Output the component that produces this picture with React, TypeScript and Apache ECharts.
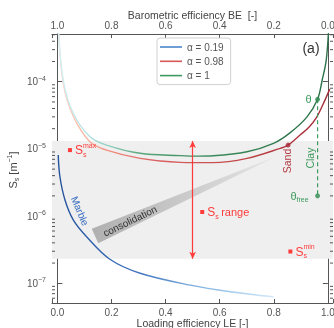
import React, { useEffect, useRef } from 'react';
import * as echarts from 'echarts';

// ---------- axis ranges ----------
const LE_MIN = -0.02;
const LE_MAX = 1.019;
const S_MIN = 5.09e-8;
const S_MAX = 5.13e-4;

// ---------- curves (LE, S_s) ----------
const blueLE = [0.003, 0.0093, 0.028, 0.0585, 0.108, 0.194, 0.306, 0.491, 0.639, 0.799];
const blueS = [8.1e-6, 3.85e-6, 1.74e-6, 8.8e-7, 4.93e-7, 2.28e-7, 1.41e-7, 9.4e-8, 7.5e-8, 6.3e-8];

const redLE = [0.004, 0.022, 0.0585, 0.12, 0.182, 0.306, 0.454, 0.576, 0.701, 0.824, 0.853, 0.898, 0.93, 0.957, 0.981, 1.007];
const redS = [6.3e-4, 9.25e-5, 3.09e-5, 1.28e-5, 9.6e-6, 7.24e-6, 6.31e-6, 6.24e-6, 7.24e-6, 1.02e-5, 1.14e-5, 1.62e-5, 2.1e-5, 2.9e-5, 4.5e-5, 7.76e-5];

const greenLE = [0.003, 0.0215, 0.0585, 0.12, 0.182, 0.306, 0.454, 0.52, 0.576, 0.701, 0.799, 0.861, 0.923, 0.962, 0.979, 0.994, 1.003];
const greenS = [6.3e-4, 1.06e-4, 3.39e-5, 1.52e-5, 1.14e-5, 8.6e-6, 7.94e-6, 7.8e-6, 7.9e-6, 9.08e-6, 1.21e-5, 1.75e-5, 3.0e-5, 5.47e-5, 1.06e-4, 2.1e-4, 6.3e-4];

// ---------- reference levels & points ----------
const SS_MAX = 1.31e-5;
const SS_MIN = 2.32e-7;
const ARROW_LE = 0.5;
const thetaPt = [0.962, 5.47e-5];
const thetaFreePt = [0.962, 2.0e-6];
const sandPt = [0.853, 1.14e-5];

// consolidation wedge (LE, S)
const wedgeLE = [0.127, 0.151, 0.813];
const wedgeS = [6.49e-7, 3.94e-7, 7.83e-6];

const legendNames = ['α = 0.19', 'α = 0.98', 'α = 1'];
const legendColors = ['#4a86cc', '#d65858', '#3f9a60'];

const FONT = 'Liberation Sans, Arial, Helvetica, sans-serif';
const RED = '#ff3b3b';
const GREEN = '#3d9a5e';

function zip(a: number[], b: number[]) {
  return a.map((v, i) => [v, b[i]]);
}

function minorTickValues() {
  const out: number[] = [];
  for (let n = -8; n <= -3; n++) {
    for (let k = 2; k <= 9; k++) {
      const v = k * Math.pow(10, n);
      if (v > S_MIN && v < S_MAX) out.push(v);
    }
  }
  return out;
}

function grad(stops: [number, string][]) {
  return new echarts.graphic.LinearGradient(0, 0, 1, 0, stops.map(([o, c]) => ({ offset: o, color: c })));
}

export default function App() {
  const ref = useRef<HTMLDivElement>(null);

  useEffect(() => {
    if (!ref.current) return;
    const chart = echarts.init(ref.current, null, { renderer: 'svg' });

    const axisCommon = {
      axisLine: { show: true, lineStyle: { color: '#555', width: 1 } },
      splitLine: { show: false },
    };

    const xLabelFmt = (v: number) => (Math.abs(v * 5 - Math.round(v * 5)) < 1e-6 ? Math.abs(v).toFixed(1) : '');

    const curve = (name: string, le: number[], s: number[], stops: [number, string][]) => ({
      name,
      type: 'line',
      z: 4,
      data: zip(le, s),
      smooth: 0.35,
      showSymbol: false,
      symbol: 'none',
      silent: true,
      lineStyle: { width: 1.4, color: grad(stops) },
    });

    const option: any = {
      animation: false,
      textStyle: { fontFamily: FONT },
      grid: { left: 52, right: 1, top: 34, bottom: 25, show: false, containLabel: false, outerBoundsMode: 'none' },
      legend: {
        left: 157,
        top: 38,
        orient: 'vertical',
        icon: 'rect',
        itemWidth: 22,
        itemHeight: 1.6,
        itemGap: 2.3,
        padding: [3, 7, 3, 3],
        borderColor: '#d0d0d0',
        borderWidth: 1,
        borderRadius: 3,
        backgroundColor: '#fff',
        textStyle: { fontSize: 10, color: '#555', fontFamily: FONT, lineHeight: 12 },
        data: legendNames,
      },
      xAxis: [
        {
          ...axisCommon,
          type: 'value',
          position: 'bottom',
          min: LE_MIN,
          max: LE_MAX,
          axisTick: { show: true, inside: true, length: 4, lineStyle: { color: '#555' } },
          axisLabel: { fontSize: 10, color: '#555', margin: 4, formatter: xLabelFmt, fontFamily: FONT, hideOverlap: false },
          name: 'Loading efficiency LE [-]',
          nameLocation: 'middle',
          nameGap: 14,
          nameMoveOverlap: false,
          nameTextStyle: { fontSize: 10.5, color: '#444', fontFamily: FONT },
        },
        {
          ...axisCommon,
          type: 'value',
          position: 'top',
          inverse: true,
          min: 1 - LE_MAX,
          max: 1 - LE_MIN,
          axisTick: { show: true, inside: true, length: 4, lineStyle: { color: '#555' } },
          axisLabel: { fontSize: 10, color: '#555', margin: 4, formatter: xLabelFmt, fontFamily: FONT, hideOverlap: false },
          name: 'Barometric efficiency BE  [-]',
          nameLocation: 'middle',
          nameGap: 14,
          nameMoveOverlap: false,
          nameTextStyle: { fontSize: 10.5, color: '#444', fontFamily: FONT },
        },
      ],
      yAxis: [
        {
          ...axisCommon,
          type: 'log',
          logBase: 10,
          position: 'left',
          min: S_MIN,
          max: S_MAX,
          axisTick: { show: true, inside: true, length: 5, lineStyle: { color: '#555' } },
          axisLabel: {
            margin: 6,
            color: '#555',
            formatter: (v: number) => {
              const e = Math.log10(v);
              if (Math.abs(e - Math.round(e)) > 1e-6) return '';
              return '{b|10}{s|−' + -Math.round(e) + '}';
            },
            rich: {
              b: { fontSize: 10, color: '#555', lineHeight: 14, fontFamily: FONT },
              s: { fontSize: 7, color: '#555', lineHeight: 8, verticalAlign: 'top', fontFamily: FONT },
            },
          },
        },
        {
          ...axisCommon,
          type: 'log',
          logBase: 10,
          position: 'right',
          min: S_MIN,
          max: S_MAX,
          axisTick: { show: true, inside: true, length: 5, lineStyle: { color: '#555' } },
          axisLabel: { show: false },
        },
      ],
      series: [
        {
          name: 'band',
          type: 'line',
          data: [],
          z: 1,
          silent: true,
          markArea: {
            silent: true,
            itemStyle: { color: '#efefef' },
            data: [[{ yAxis: SS_MIN }, { yAxis: SS_MAX }]],
          },
          markLine: {
            silent: true,
            symbol: 'none',
            label: { show: false },
            lineStyle: { color: '#ff7070', type: [3, 2], width: 1 },
            data: [{ yAxis: SS_MAX }, { yAxis: SS_MIN }],
          },
        },
        {
          name: 'wedge',
          type: 'custom',
          z: 2,
          silent: true,
          data: [[0.5, 1e-6]],
          renderItem: (_p: any, api: any) => {
            const pts = wedgeLE.map((x, i) => api.coord([x, wedgeS[i]]));
            return {
              type: 'polygon',
              shape: { points: pts },
              style: {
                fill: new echarts.graphic.LinearGradient(0, 0, 1, 0, [
                  { offset: 0, color: '#b0b0b0' },
                  { offset: 0.5, color: '#cacaca' },
                  { offset: 1, color: '#e6e6e6' },
                ]),
              },
            };
          },
        },
        {
          name: 'arrow',
          type: 'line',
          data: [],
          z: 3,
          silent: true,
          markLine: {
            silent: true,
            symbol: ['arrow', 'arrow'],
            symbolSize: [5, 7],
            label: { show: false },
            lineStyle: { color: RED, type: 'solid', width: 1.2 },
            data: [[{ coord: [ARROW_LE, SS_MAX] }, { coord: [ARROW_LE, SS_MIN] }]],
          },
        },
        curve('blueCurve', blueLE, blueS, [
          [0, '#24529c'],
          [0.35, '#3c70bc'],
          [0.7, '#8cbbe4'],
          [1, '#d4e8f8'],
        ]),
        curve('redCurve', redLE, redS, [
          [0, '#fcd4c4'],
          [0.1, '#f9b4a0'],
          [0.2, '#f08a7a'],
          [0.35, '#dc6262'],
          [0.6, '#c84c4c'],
          [1, '#a02c36'],
        ]),
        curve('greenCurve', greenLE, greenS, [
          [0, '#d4f0f4'],
          [0.1, '#b8e4e6'],
          [0.2, '#8ccbb8'],
          [0.3, '#5aa87c'],
          [0.5, '#3e8e5e'],
          [1, '#2a7048'],
        ]),
        {
          name: 'clayLine',
          type: 'line',
          z: 5,
          data: [thetaPt, thetaFreePt],
          showSymbol: false,
          symbol: 'none',
          silent: true,
          lineStyle: { color: GREEN, type: [4, 3], width: 1.2 },
        },
        {
          name: 'greenDots',
          type: 'scatter',
          z: 6,
          symbolSize: 5,
          silent: true,
          itemStyle: { color: '#2f8a50' },
          data: [thetaPt, thetaFreePt],
        },
        {
          name: 'sandDot',
          type: 'scatter',
          z: 6,
          symbolSize: 5,
          silent: true,
          itemStyle: { color: '#a8283a' },
          data: [sandPt],
        },
        {
          name: 'minorTicks',
          type: 'custom',
          z: 7,
          silent: true,
          clip: false,
          data: minorTickValues().map((v) => [LE_MIN, v]),
          renderItem: (_p: any, api: any) => {
            const v = api.value(1);
            const a = api.coord([LE_MIN, v]);
            const b = api.coord([LE_MAX, v]);
            return {
              type: 'group',
              children: [
                { type: 'line', shape: { x1: a[0], y1: a[1], x2: a[0] + 3, y2: a[1] }, style: { stroke: '#555', lineWidth: 1 } },
                { type: 'line', shape: { x1: b[0] - 3, y1: b[1], x2: b[0], y2: b[1] }, style: { stroke: '#555', lineWidth: 1 } },
              ],
            };
          },
        },
        ...legendNames.map((n, i) => ({
          name: n,
          type: 'line',
          data: [],
          symbol: 'none',
          showSymbol: false,
          color: legendColors[i],
          itemStyle: { color: legendColors[i] },
          lineStyle: { color: legendColors[i], width: 1.6 },
        })),
      ],
    };

    chart.setOption(option);

    const px = (x: number, y: number) => chart.convertToPixel({ xAxisIndex: 0, yAxisIndex: 0 }, [x, y]) as number[];

    const tEl = (x: number, y: number, text: string, size: number, fill: string, extra: any = {}) => ({
      type: 'text',
      z: 100,
      x,
      y,
      style: { text, fontSize: size, fontFamily: FONT, fill, verticalAlign: 'middle', align: 'left', ...extra },
    });

    const sLabel = (anchor: number[], sup: string, after: string) => {
      const [x, y] = px(anchor[0], anchor[1]);
      const els: any[] = [
        { type: 'rect', z: 100, shape: { x: x, y: y - 2, width: 4, height: 4 }, style: { fill: RED } },
        tEl(x + 7, y, 'S', 12, RED),
        tEl(x + 15, y + 4, 's', 7, RED),
      ];
      if (sup) els.push(tEl(x + 15, y - 5, sup, 7, RED));
      if (after) els.push(tEl(x + 21, y, after, 11, RED));
      return els;
    };

    const txt = (anchor: number[], text: string, fill: string, rot: number, size: number, dx = 0, dy = 0, align = 'center', rich?: any) => {
      const [x, y] = px(anchor[0], anchor[1]);
      return {
        type: 'text',
        z: 100,
        x: x + dx,
        y: y + dy,
        rotation: rot,
        style: { text, fill, fontSize: size, fontFamily: FONT, align, verticalAlign: 'middle', rich },
      };
    };

    const consolidationAnchor = [0.2685, 8.45e-7];
    const clayAnchor = [0.935, 7.3e-6];
    const sandAnchor = [0.85, 6.6e-6];
    const marbleAnchor = [0.083, 1.19e-6];

    chart.setOption({
      graphic: [
        txt(consolidationAnchor, 'consolidation', '#333', 0.45, 10),
        txt(clayAnchor, 'Clay', GREEN, Math.PI / 2, 10.5),
        txt(sandAnchor, 'Sand', '#b23b45', Math.PI / 2, 10.5),
        txt(marbleAnchor, 'Marble', '#3a6fc0', -1.17, 10),
        txt(thetaPt, 'θ', GREEN, 0, 11, -6, 0, 'right'),
        txt(thetaFreePt, '{t|θ}{s|free}', GREEN, 0, 11, -9, 0, 'right', {
          t: { fontSize: 11, fill: GREEN, fontFamily: FONT, lineHeight: 14 },
          s: { fontSize: 7, fill: GREEN, fontFamily: FONT, verticalAlign: 'bottom', lineHeight: 8 },
        }),
        ...sLabel([0.039, 9.6e-6], 'max', ''),
        ...sLabel([0.528, 1.15e-6], '', 'range'),
        ...sLabel([0.854, 2.97e-7], 'min', ''),
        {
          type: 'text',
          z: 100,
          x: 311,
          y: 48,
          style: { text: '(a)', fontSize: 14, fontFamily: FONT, fill: '#333', align: 'center', verticalAlign: 'middle' },
        },
        {
          type: 'text',
          z: 100,
          x: 13,
          y: 170,
          rotation: Math.PI / 2,
          style: {
            text: '{b|S}{s|s}{b| [m}{p|−1}{b|]}',
            align: 'center',
            verticalAlign: 'middle',
            rich: {
              b: { fontSize: 11, fill: '#444', fontFamily: FONT, lineHeight: 14 },
              s: { fontSize: 7, fill: '#444', fontFamily: FONT, verticalAlign: 'bottom', lineHeight: 8 },
              p: { fontSize: 7, fill: '#444', fontFamily: FONT, verticalAlign: 'top', lineHeight: 8 },
            },
          },
        },
      ],
    });

    return () => {
      chart.dispose();
    };
  }, []);

  return <div ref={ref} style={{ position: 'fixed', left: 0, top: 0, width: 334, height: 328 }} />;
}
